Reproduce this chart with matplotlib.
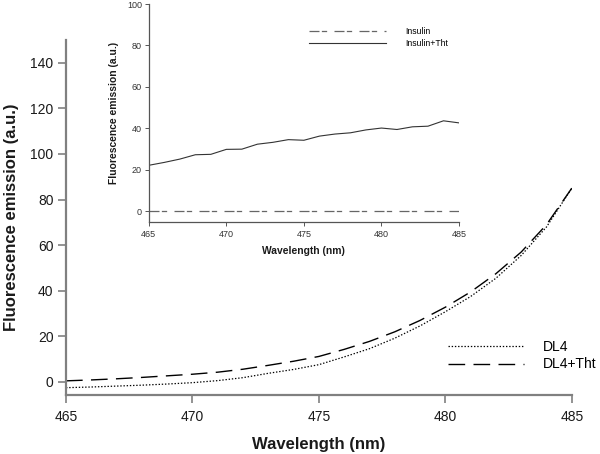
import matplotlib
matplotlib.use("Agg")
import matplotlib.pyplot as plt

plt.rcParams["font.family"] = ["Liberation Sans", "DejaVu Sans"]
plt.rcParams["lines.scale_dashes"] = False

# main panel: DL4 spectra
wavelength = [465, 466, 467, 468, 469, 470, 471, 472, 473, 474, 475,
              476, 477, 478, 479, 480, 481, 482, 483, 484, 485]
dl4 = [-2.5, -2.2, -1.8, -1.4, -0.9, -0.3, 0.6, 1.9, 3.8, 5.5, 7.6,
       11.0, 14.6, 19.2, 24.6, 30.8, 37.5, 45.5, 55.5, 68.0, 85.0]
dl4_tht = [0.5, 0.9, 1.4, 2.0, 2.7, 3.4, 4.3, 5.6, 7.3, 9.1, 11.2,
           14.3, 17.8, 22.0, 27.0, 32.8, 39.5, 47.5, 57.0, 69.0, 85.0]

# inset: insulin spectra
insulin = [0.0] * len(wavelength)
insulin_tht = [22.1, 23.5, 25.1, 27.2, 27.4, 29.8, 29.9, 32.3, 33.2, 34.5, 34.2,
               36.2, 37.2, 37.8, 39.2, 40.1, 39.4, 40.7, 41.0, 43.6, 42.6]

main_ticks_x = [465, 470, 475, 480, 485]
main_ticks_y = [0, 20, 40, 60, 80, 100, 120, 140]
inset_ticks_y = [0, 20, 40, 60, 80, 100]

SPINE = "#808080"
INK = "#1a1a1a"

fig = plt.figure(figsize=(6.0, 4.54), dpi=100)

ax = fig.add_axes([0.11, 0.13, 0.843, 0.782])
ax.plot(wavelength, dl4, color="black", lw=0.9, linestyle=(0, (1.0, 1.3)), label="DL4")
ax.plot(wavelength, dl4_tht, color="black", lw=1.0, linestyle=(0, (12, 6)), label="DL4+Tht")
ax.set_xlim(465, 485)
ax.set_ylim(-5.7, 150)
ax.set_xticks(main_ticks_x)
ax.set_yticks(main_ticks_y)
for s in ("top", "right"):
    ax.spines[s].set_visible(False)
for s in ("left", "bottom"):
    ax.spines[s].set_color(SPINE)
    ax.spines[s].set_linewidth(1.6)
ax.tick_params(direction="out", length=6, width=1.2, color=SPINE,
               labelsize=10, labelcolor=INK, pad=3)
ax.tick_params(axis="x", pad=4.5)
ax.set_xlabel("Wavelength (nm)", fontsize=12, fontweight="bold", color=INK, labelpad=10)
ax.set_ylabel("Fluorescence emission (a.u.)", fontsize=12, fontweight="bold", color=INK, labelpad=8)
ax.legend(loc="upper left", bbox_to_anchor=(0.755, 0.155), frameon=False,
          fontsize=10, handlelength=5.45, handletextpad=1.4, labelspacing=0.25,
          borderpad=0, borderaxespad=0)

ins = fig.add_axes([0.248, 0.511, 0.517, 0.48])
ins.patch.set_alpha(0)
ins.plot(wavelength, insulin, color="#666666", lw=0.9,
         linestyle=(0, (7.2, 1.7, 3.8, 5.3)), label="Insulin")
ins.plot(wavelength, insulin_tht, color="#333333", lw=0.8, label="Insulin+Tht")
ins.set_xlim(465, 485)
ins.set_ylim(-5.3, 100)
ins.set_xticks(main_ticks_x)
ins.set_yticks(inset_ticks_y)
for s in ("top", "right"):
    ins.spines[s].set_visible(False)
for s in ("left", "bottom"):
    ins.spines[s].set_color("#555555")
    ins.spines[s].set_linewidth(0.9)
ins.tick_params(direction="out", length=3, width=0.7, color="#555555",
                labelsize=6.5, labelcolor="#333333", pad=2)
ins.tick_params(axis="x", pad=3)
ins.set_xlabel("Wavelength (nm)", fontsize=7.4, fontweight="bold", color=INK, labelpad=5)
ins.set_ylabel("Fluorescence emission (a.u.)", fontsize=7.4, fontweight="bold", color=INK, labelpad=6)
ins.legend(loc="upper left", bbox_to_anchor=(0.515, 0.895), frameon=False,
           fontsize=6.2, handlelength=9.0, handletextpad=2.2, labelspacing=0.3,
           borderpad=0, borderaxespad=0)

fig.savefig("out.png", dpi=100)
